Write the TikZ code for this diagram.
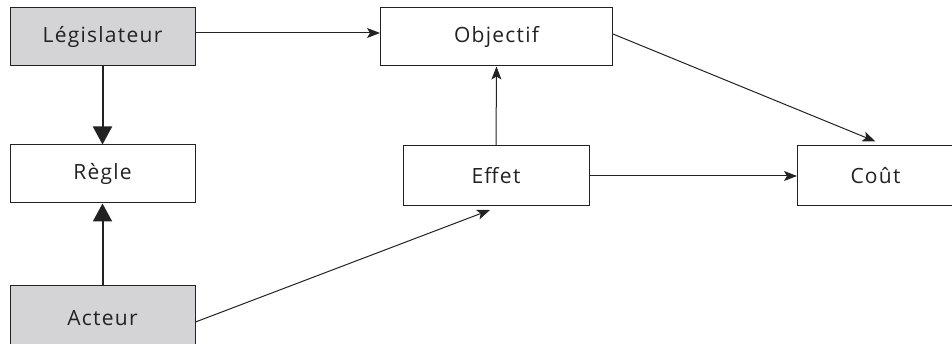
\documentclass[tikz,border=0pt]{standalone}
\usepackage{fontspec}
\setmainfont{Open Sans}[LetterSpace=6]
\usetikzlibrary{arrows.meta}
\definecolor{boxgray}{HTML}{D4D4D6}
\definecolor{ink}{HTML}{222222}
\begin{document}
\begin{tikzpicture}[x=1pt,y=-1pt,
  box/.style={draw=ink, line width=1pt, minimum width=#1, minimum height=58pt, inner sep=0pt, font=\fontsize{21}{24}\selectfont, text=ink},
  box/.default=185pt,
  shaded/.style={fill=boxgray},
  thin arrow/.style={draw=ink, line width=1pt, -{Stealth[length=13pt,width=10pt,inset=3pt]}},
  thick arrow/.style={draw=ink, line width=2pt, -{Triangle[length=18pt,width=19pt]}}]
\useasboundingbox (0,0) rectangle (952,344);
\node[box, shaded] (leg) at (102.5,37) {Législateur};
\node[box] (regle) at (102.5,174) {Règle};
\node[box, shaded, minimum height=64pt] (act) at (102.5,318) {Acteur};
\node[box=232pt] (obj) at (496.5,37) {Objectif};
\node[box=186pt, minimum height=60pt] (eff) at (496,176) {Effet};
\node[box=156pt, minimum height=60pt] (cout) at (875.5,176) {Coût};
\draw[thin arrow] ([yshift=4pt]leg.east) -- ([yshift=4pt]obj.west);
\draw[thick arrow] (leg.south) -- (regle.north);
\draw[thick arrow] (act.north) -- (regle.south);
\draw[thin arrow] ([yshift=-4pt]act.east) -- ([xshift=-6pt,yshift=-3.5pt]eff.south);
\draw[thin arrow] (eff.north) -- (obj.south);
\draw[thin arrow] (eff.east) -- (cout.west);
\draw[thin arrow] ([yshift=3pt]obj.east) -- ([yshift=4pt]cout.north);
\end{tikzpicture}
\end{document}
